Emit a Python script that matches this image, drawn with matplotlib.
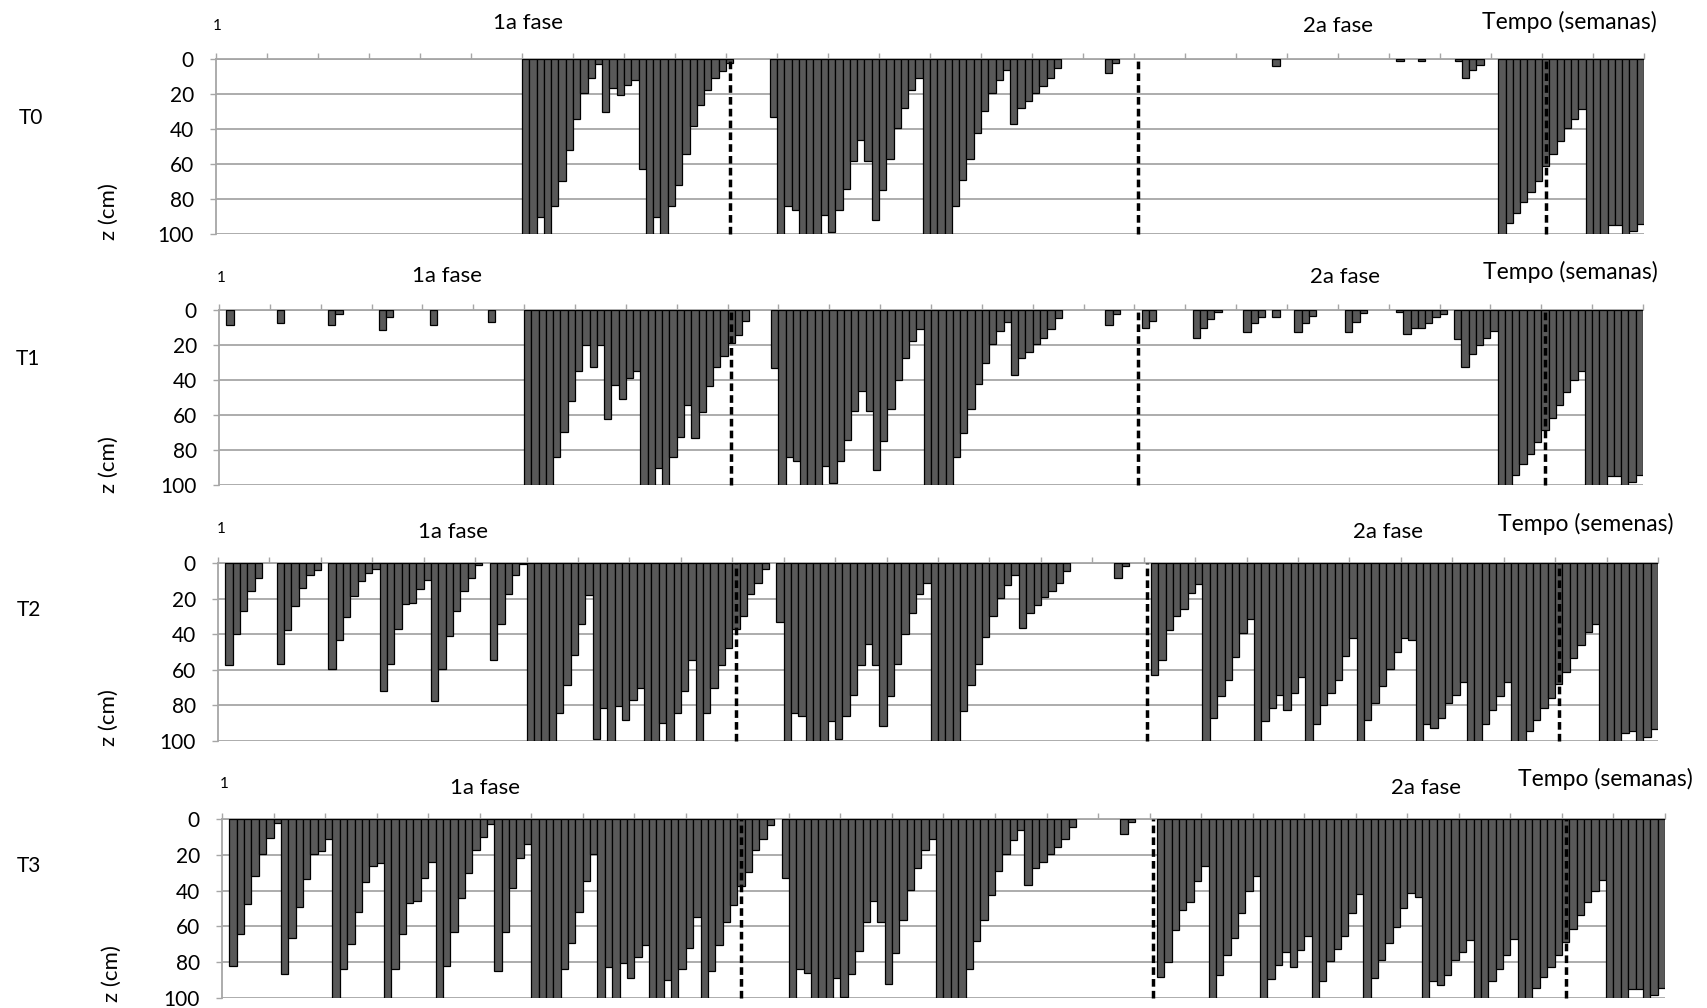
import matplotlib
matplotlib.use('Agg')
import matplotlib.pyplot as plt
import numpy as np

plt.rcParams['font.family'] = ['Lato', 'DejaVu Sans']

# profundidade (cm) por dia, 28 semanas x 7 dias
t0_z = [
    0, 0, 0, 0, 0, 0, 0,
    0, 0, 0, 0, 0, 0, 0,
    0, 0, 0, 0, 0, 0, 0,
    0, 0, 0, 0, 0, 0, 0,
    0, 0, 0, 0, 0, 0, 0,
    0, 0, 0, 0, 0, 0, 0,
    100, 100, 90, 100, 84, 69.5, 52,
    34, 19.5, 11, 3, 30, 16.6, 20.4,
    14.7, 12, 63, 100, 90, 100, 84,
    72, 54, 38, 26, 17.5, 11, 7,
    2, 0, 0, 0, 0, 0, 33,
    100, 84, 86, 100, 100, 100, 89,
    99, 86, 74, 58, 46, 58, 92,
    75, 57, 39.5, 28, 17.5, 11, 100,
    100, 100, 100, 84, 69, 57, 42,
    29.5, 19.5, 12, 6.5, 37, 28, 24,
    19.5, 15.6, 11, 5, 0, 0, 0,
    0, 0, 0, 8, 2, 0, 0,
    0, 0, 0, 0, 0, 0, 0,
    0, 0, 0, 0, 0, 0, 0,
    0, 0, 0, 0, 0, 4, 0,
    0, 0, 0, 0, 0, 0, 0,
    0, 0, 0, 0, 0, 0, 0,
    0, 1, 0, 0, 1, 0, 0,
    0, 0, 1, 11, 6.5, 3.6, 0,
    0, 100, 93.5, 88, 81.5, 76, 69.5,
    61, 54, 47, 39.5, 34, 28.6, 100,
    100, 100, 95, 95, 100, 98, 94.5,
]

t1_z = [
    0, 8.6, 0, 0, 0, 0, 0,
    0, 7.6, 0, 0, 0, 0, 0,
    0, 8.6, 2, 0, 0, 0, 0,
    0, 11.4, 4.2, 0, 0, 0, 0,
    0, 8.6, 0, 0, 0, 0, 0,
    0, 0, 6.7, 0, 0, 0, 0,
    100, 100, 100, 100, 84, 69.5, 52,
    34.7, 20, 32.4, 20, 62.3, 42.9, 51,
    39, 34.7, 100, 100, 90, 100, 84,
    72.4, 54, 73, 58.5, 43.4, 32.4, 26,
    19, 14.3, 6, 0, 0, 0, 33,
    100, 84, 86, 100, 100, 100, 89,
    99, 86, 74, 57.5, 46, 57.5, 91.4,
    75, 56.6, 40, 27.6, 17.7, 11, 100,
    100, 100, 100, 84, 70, 56.6, 42.5,
    30, 19.6, 12, 6.7, 37, 27.6, 24,
    19.6, 15.8, 11, 4.8, 0, 0, 0,
    0, 0, 0, 8.6, 2, 0, 0,
    0, 10.5, 6.3, 0, 0, 0, 0,
    0, 15.8, 10.5, 5, 1.3, 0, 0,
    0, 12.4, 7.6, 3.8, 0, 4.2, 0,
    0, 12.4, 7.6, 3.2, 0, 0, 0,
    0, 12.4, 6.7, 1.9, 0, 0, 0,
    0, 1.3, 13.9, 10, 10.5, 7.6, 4.2,
    2.3, 0, 16.8, 32.4, 25.3, 20, 15.8,
    12, 100, 100, 94.3, 88, 82.5, 75.6,
    68.6, 61.5, 54, 46.7, 40, 34.7, 100,
    100, 100, 95, 95, 100, 98, 94.3,
]

t2_z = [
    0, 57.5, 39.7, 27, 15.7, 8.4, 0,
    0, 56.5, 37.8, 24, 13.9, 6.6, 4.1,
    0, 59.4, 43.4, 30.3, 18.5, 10.1, 5.4,
    3.6, 72, 56.5, 36.9, 22.8, 22.3, 14.8,
    9.4, 77.5, 59.7, 41, 27, 15.7, 8.4,
    1, 0, 54.3, 34, 17.2, 6.9, 0.7,
    100, 100, 100, 100, 84.3, 68.7, 51.9,
    34, 18.2, 99, 81.5, 100, 80.5, 88,
    76.8, 70, 100, 100, 89.7, 100, 84.3,
    72, 54.3, 100, 84.3, 70, 57.5, 48,
    36.9, 29.8, 17.6, 11, 3.6, 0, 33.1,
    100, 84.3, 86, 100, 100, 100, 88.8,
    99, 86, 74, 57.5, 45.3, 57.5, 91.6,
    74.9, 56.6, 39.7, 27.9, 17.6, 11, 100,
    100, 100, 100, 83.3, 68.7, 56.6, 41.6,
    29.8, 19.7, 12.2, 6.6, 36.3, 27.9, 23.8,
    19.1, 15.7, 11, 4.5, 0, 0, 0,
    0, 0, 0, 8.4, 1.7, 0, 0,
    0, 62.7, 54.3, 37.8, 29.8, 25.7, 16.7,
    12, 100, 87, 74.9, 65.9, 52.8, 39.3,
    31.3, 100, 88.8, 81.5, 74, 82.4, 73,
    64, 100, 90.6, 79.6, 73, 65.5, 52.4,
    42, 100, 88, 78.5, 69.3, 59.7, 50,
    42, 43.4, 100, 90.6, 92.5, 87, 78.5,
    74, 66.8, 100, 100, 90.6, 82.4, 74.9,
    66.8, 100, 100, 94.4, 88.4, 81.5, 75.7,
    67.8, 61.2, 53.4, 46.3, 38.8, 34, 100,
    100, 100, 95.3, 94.2, 100, 98, 93.4,
]

t3_z = [
    0, 82.2, 64.5, 47.7, 32.1, 19.4, 10.7,
    2.2, 86.4, 66.7, 49, 33.5, 19.6, 17.6,
    11.2, 100, 84, 70, 51.8, 35, 26.5,
    24.7, 100, 84, 64.5, 47.1, 45.6, 33,
    24.1, 100, 82.2, 63, 44.3, 30.3, 17.2,
    10.1, 2.6, 84.9, 63, 38.7, 21.9, 13.8,
    100, 100, 100, 100, 84, 69.2, 51.8,
    34.4, 19.6, 100, 82.6, 100, 80.4, 88.8,
    77, 70.5, 100, 100, 89.7, 100, 84,
    72.3, 55, 100, 84.9, 70.5, 57.4, 48,
    37.4, 29.7, 17.2, 11, 3.6, 0, 33,
    100, 84, 86, 100, 100, 100, 88.8,
    99.4, 86.4, 73.8, 57.4, 45.6, 57.4, 92,
    75, 56.4, 39.6, 27.5, 17.2, 11, 100,
    100, 100, 100, 84, 68.2, 56.4, 42.4,
    29.3, 19.4, 11.6, 6.4, 36.8, 27.5, 24.1,
    19.4, 15.7, 11, 4.5, 0, 0, 0,
    0, 0, 0, 8.2, 1.7, 0, 0,
    0, 88.2, 79.8, 62, 50.8, 46.2, 34.6,
    26, 100, 87.3, 76, 66.7, 52.7, 40.2,
    31.6, 100, 89.5, 81.3, 74.2, 82.6, 73.3,
    65.2, 100, 90.7, 79.4, 72.9, 65.4, 52.7,
    41.9, 100, 88.8, 78.5, 69.2, 60.2, 49.9,
    41.5, 43.4, 100, 90.7, 92.5, 87.3, 78.9,
    74.2, 67.7, 100, 100, 90.7, 83.6, 76,
    67, 100, 100, 94.4, 88.2, 82.6, 76,
    68.6, 61.5, 53.6, 46.2, 40, 34, 100,
    100, 100, 95.1, 95.1, 100, 98.1, 94.4,
]

series = [t0_z, t1_z, t2_z, t3_z]
panel_names = ['T0', 'T1', 'T2', 'T3']
time_titles = ['Tempo (semanas)', 'Tempo (semanas)', 'Tempo (semenas)', 'Tempo (semanas)']
y_ticks = [0, 20, 40, 60, 80, 100]
phase_lines = [70, 126, 182]   # dia (indice) das linhas tracejadas

W, H = 1708, 1008
fig = plt.figure(figsize=(W / 100, H / 100), dpi=100)

# caixas dos eixos em pixels (esq, topo, dir, base)
boxes = [(216, 59, 1644, 234), (219, 310, 1643, 485),
         (218, 563, 1658, 741), (222, 819, 1665, 998)]
# posicoes dos textos em pixels
name_pos = [(31, 118), (28, 359), (29, 610), (29, 866)]
zlab_pos = [(109, 212), (109, 465), (109, 718), (112, 974)]
one_pos = [(217, 26), (221, 278), (221, 529), (224, 784)]
fase1_pos = [(528, 23), (447, 276), (453, 532), (485, 788)]
fase2_pos = [(1338, 26), (1345, 277), (1388, 532), (1426, 788)]
tempo_pos = [(1569, 22), (1570, 272), (1586, 524), (1605, 779)]

grid_col = '#a6a6a6'


def fx(px):
    return px / W


def fy(py):
    return 1 - py / H


for k, vals in enumerate(series):
    l, t, r, b = boxes[k]
    ax = fig.add_axes([fx(l), fy(b), fx(r) - fx(l), fy(t) - fy(b)])
    v = np.array(vals, dtype=float)
    x = np.arange(len(v))
    keep = v > 0
    ax.bar(x[keep], v[keep], width=1.0, color='#595959', edgecolor='black',
           linewidth=0.9, zorder=3)
    ax.set_xlim(-0.5, len(v) - 0.5)
    ax.set_ylim(100, 0)
    ax.set_yticks(y_ticks)
    ax.yaxis.grid(True, color=grid_col, linewidth=1.3, zorder=0)
    ax.set_axisbelow(True)

    ax.xaxis.tick_top()
    ax.set_xticks(np.arange(0, len(v) + 1, 7) - 0.5)
    ax.set_xticklabels([])
    ax.tick_params(axis='x', direction='out', length=4, width=1, color=grid_col)
    ax.tick_params(axis='y', direction='out', length=4, width=1, color=grid_col,
                   labelsize=15, pad=12)
    for s in ['right', 'bottom']:
        ax.spines[s].set_visible(False)
    for s in ['top', 'left']:
        ax.spines[s].set_color(grid_col)
        ax.spines[s].set_linewidth(1.3)

    for d in phase_lines:
        ax.axvline(d, color='black', linestyle=(0, (2.2, 1.2)), linewidth=2.5,
                   zorder=4, clip_on=False)

    fig.text(fx(name_pos[k][0]), fy(name_pos[k][1]), panel_names[k],
             fontsize=15, ha='center', va='center')
    fig.text(fx(zlab_pos[k][0]), fy(zlab_pos[k][1]), 'z (cm)',
             fontsize=16, ha='center', va='center', rotation=90)
    fig.text(fx(one_pos[k][0]), fy(one_pos[k][1]), '1',
             fontsize=11, ha='center', va='center')
    fig.text(fx(fase1_pos[k][0]), fy(fase1_pos[k][1]), '1a fase',
             fontsize=16, ha='center', va='center')
    fig.text(fx(fase2_pos[k][0]), fy(fase2_pos[k][1]), '2a fase',
             fontsize=16, ha='center', va='center')
    fig.text(fx(tempo_pos[k][0]), fy(tempo_pos[k][1]), time_titles[k],
             fontsize=16.5, ha='center', va='center')

fig.savefig('out.png', dpi=100)
